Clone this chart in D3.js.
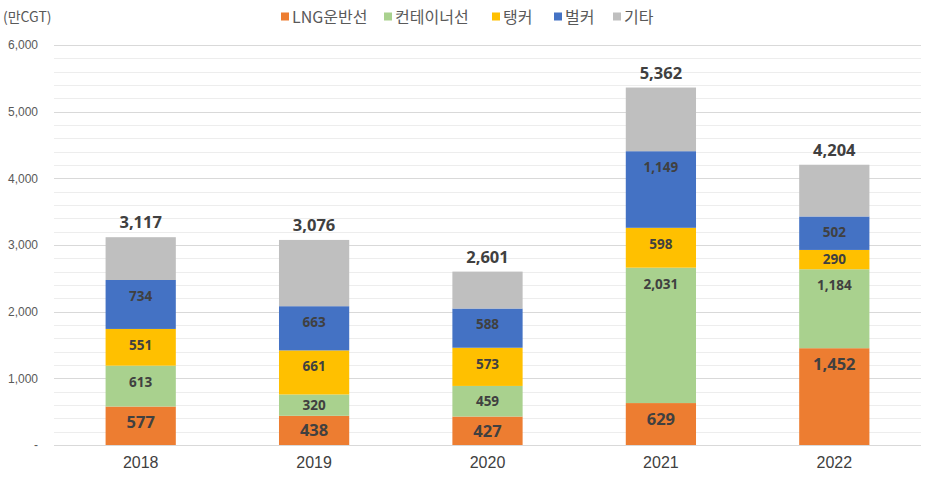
<!DOCTYPE html>
<html><head><meta charset="utf-8">
<script src="https://cdn.jsdelivr.net/npm/d3@7"></script>
<style>body{margin:0;background:#fff;}svg{display:block;font-family:"Noto Sans CJK KR","Noto Sans",sans-serif;}</style>
</head><body>
<svg id="c" width="928" height="478"></svg>
<script>
const years = ["2018","2019","2020","2021","2022"];
const seriesNames = ["LNG운반선","컨테이너선","탱커","벌커","기타"];
const lng = [577,438,427,629,1452];
const container = [613,320,459,2031,1184];
const tanker = [551,661,573,598,290];
const bulker = [734,663,588,1149,502];
const other = [642,994,554,955,776];
const totals = [3117,3076,2601,5362,4204];
const yTicks = [0,1000,2000,3000,4000,5000,6000];
const colors = ["#ED7D31","#A9D18E","#FFC000","#4472C4","#BFBFBF"];

const numFont = "'Open Sans','Noto Sans',sans-serif";
const svg = d3.select("#c");
const x = d3.scaleBand().domain(years).range([54,921]).paddingInner(0.595).paddingOuter(0.2975);
const y = d3.scaleLinear().domain([0,6000]).range([445,45]);

// gridlines
const minor = d3.range(0,6001,200).filter(v=>v%1000!==0);
svg.append("g").selectAll("line").data(minor).join("line")
  .attr("x1",54).attr("x2",921).attr("y1",d=>Math.round(y(d))+0.5).attr("y2",d=>Math.round(y(d))+0.5)
  .attr("stroke","#ededed").attr("stroke-width",1);
svg.append("g").selectAll("line").data(yTicks).join("line")
  .attr("x1",54).attr("x2",921).attr("y1",d=>Math.round(y(d))+0.5).attr("y2",d=>Math.round(y(d))+0.5)
  .attr("stroke","#d9d9d9").attr("stroke-width",1);

// y axis labels
const yAxis = d3.axisLeft(y).tickValues(yTicks).tickSize(0).tickPadding(0)
  .tickFormat(d=>d===0?"-":d3.format(",")(d));
const ya = svg.append("g").attr("transform","translate(38,0)").call(yAxis);
ya.select(".domain").remove();
ya.selectAll("text").attr("fill","#595959").attr("font-size","12px").attr("font-family","Liberation Sans, Arial, sans-serif");

// x axis
const xAxis = d3.axisBottom(x).tickSize(0).tickPadding(12);
const xa = svg.append("g").attr("transform","translate(0,445)").call(xAxis);
xa.select(".domain").remove();
xa.selectAll("text").attr("fill","#404040").attr("font-size","16px").attr("font-family","Liberation Sans, Arial, sans-serif");

// stacked
const data = years.map((yr,i)=>({year:yr, "LNG운반선":lng[i], "컨테이너선":container[i], "탱커":tanker[i], "벌커":bulker[i], "기타":other[i]}));
const stack = d3.stack().keys(seriesNames)(data);
const g = svg.append("g");
stack.forEach((s,si)=>{
  g.append("g").attr("fill",colors[si]).selectAll("rect").data(s).join("rect")
    .attr("x",d=>x(d.data.year)).attr("width",x.bandwidth())
    .attr("y",d=>y(d[1])).attr("height",d=>y(d[0])-y(d[1]));
  if(si<4){
    g.append("g").selectAll("text").data(s).join("text")
      .attr("x",d=>x(d.data.year)+x.bandwidth()/2)
      .attr("y",d=>Math.min(y(d[1])+16,(y(d[0])+y(d[1]))/2))
      .attr("dy","0.36em").attr("text-anchor","middle")
      .attr("font-family",numFont)
      .attr("font-weight","bold").attr("fill","#404040")
      .attr("font-size", si===0?"16.5px":"13.5px")
      .text(d=>d3.format(",")(d[1]-d[0]));
  }
});
// totals
svg.append("g").selectAll("text").data(years).join("text")
  .attr("x",d=>x(d)+x.bandwidth()/2).attr("y",(d,i)=>y(totals[i])-9)
  .attr("text-anchor","middle").attr("font-family",numFont)
  .attr("font-weight","bold").attr("font-size","16.5px").attr("fill","#404040")
  .text((d,i)=>d3.format(",")(totals[i]));

// unit label
svg.append("text").attr("x",3).attr("y",22).attr("fill","#595959").attr("font-size","14px").text("(만CGT)");

// legend
const lg = svg.append("g");
const lx = [281,384,492,554,613];
seriesNames.forEach((n,i)=>{
  lg.append("rect").attr("x",lx[i]).attr("y",12.5).attr("width",8).attr("height",8).attr("fill",colors[i]);
  lg.append("text").attr("x",lx[i]+11).attr("y",23).attr("fill","#595959").attr("font-size","16px").text(n);
});
</script>
</body></html>
